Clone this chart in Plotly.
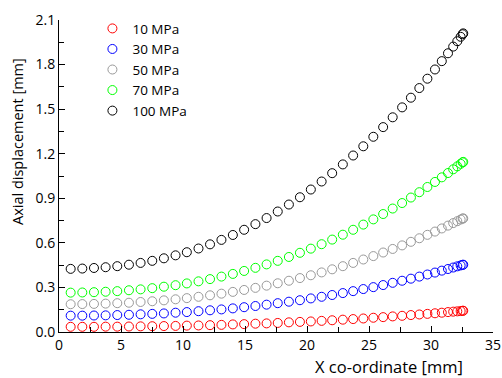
import plotly.graph_objects as go

# X co-ordinate [mm] of the nodes (shared by all series)
x_coord = [0.94, 1.88, 2.82, 3.76, 4.70, 5.64, 6.58, 7.52, 8.46, 9.40,
           10.31, 11.25, 12.18, 13.10, 14.02, 14.93, 15.84, 16.74, 17.64, 18.54,
           19.43, 20.31, 21.18, 22.03, 22.89, 23.72, 24.54, 25.35, 26.14, 26.91,
           27.67, 28.38, 29.06, 29.71, 30.32, 30.87, 31.37, 31.79, 32.12, 32.39,
           32.55, 32.60]

disp_10 = [0.035, 0.035, 0.035, 0.036, 0.036, 0.037, 0.038, 0.039, 0.040, 0.041,
           0.043, 0.044, 0.046, 0.048, 0.051, 0.053, 0.056, 0.058, 0.061, 0.065,
           0.068, 0.071, 0.075, 0.079, 0.083, 0.087, 0.091, 0.096, 0.100, 0.105,
           0.109, 0.114, 0.118, 0.122, 0.126, 0.130, 0.134, 0.137, 0.139, 0.141,
           0.143, 0.143]
disp_30 = [0.110, 0.110, 0.111, 0.112, 0.114, 0.116, 0.119, 0.122, 0.125, 0.130,
           0.134, 0.140, 0.146, 0.152, 0.159, 0.167, 0.175, 0.184, 0.194, 0.204,
           0.214, 0.226, 0.237, 0.249, 0.262, 0.275, 0.289, 0.302, 0.316, 0.331,
           0.345, 0.359, 0.373, 0.387, 0.400, 0.413, 0.424, 0.434, 0.442, 0.448,
           0.452, 0.453]
disp_50 = [0.187, 0.188, 0.189, 0.191, 0.194, 0.197, 0.202, 0.207, 0.213, 0.220,
           0.228, 0.237, 0.247, 0.258, 0.270, 0.283, 0.297, 0.312, 0.328, 0.345,
           0.363, 0.382, 0.401, 0.422, 0.443, 0.465, 0.488, 0.511, 0.535, 0.559,
           0.583, 0.607, 0.631, 0.654, 0.676, 0.697, 0.716, 0.733, 0.746, 0.757,
           0.763, 0.765]
disp_70 = [0.265, 0.266, 0.268, 0.271, 0.275, 0.281, 0.287, 0.295, 0.305, 0.315,
           0.327, 0.341, 0.356, 0.373, 0.391, 0.411, 0.432, 0.455, 0.479, 0.505,
           0.533, 0.561, 0.591, 0.622, 0.655, 0.688, 0.723, 0.758, 0.794, 0.831,
           0.868, 0.905, 0.941, 0.976, 1.010, 1.041, 1.070, 1.095, 1.115, 1.132,
           1.142, 1.145]
disp_100 = [0.425, 0.427, 0.431, 0.436, 0.443, 0.453, 0.465, 0.479, 0.496, 0.516,
            0.537, 0.562, 0.590, 0.620, 0.653, 0.688, 0.726, 0.767, 0.811, 0.858,
            0.907, 0.959, 1.013, 1.069, 1.128, 1.188, 1.250, 1.314, 1.379, 1.445,
            1.512, 1.577, 1.642, 1.705, 1.767, 1.823, 1.876, 1.921, 1.957, 1.987,
            2.004, 2.010]

series_names = ["10 MPa", "30 MPa", "50 MPa", "70 MPa", "100 MPa"]
series_values = [disp_10, disp_30, disp_50, disp_70, disp_100]
series_colors = ["#ff0000", "#0000ff", "#999999", "#00ff00", "#000000"]

x_ticks = [0, 5, 10, 15, 20, 25, 30, 35]
y_ticks = [0.0, 0.3, 0.6, 0.9, 1.2, 1.5, 1.8, 2.1]

FONT = "Open Sans"

fig = go.Figure()
for name, vals, col in zip(series_names, series_values, series_colors):
    fig.add_trace(go.Scatter(
        x=x_coord, y=vals, name=name, mode="markers",
        marker=dict(symbol="circle-open", size=9, color=col, line=dict(width=1, color=col)),
        cliponaxis=False,
    ))

fig.update_layout(
    width=502, height=378,
    margin=dict(l=59, r=9, t=20, b=46),
    paper_bgcolor="white", plot_bgcolor="white",
    font=dict(family=FONT, size=14, color="black"),
    showlegend=True,
    legend=dict(x=0.077, y=1.022, xanchor="left", yanchor="top",
                bgcolor="rgba(0,0,0,0)", font=dict(size=13.5, family=FONT),
                tracegroupgap=0),
    xaxis=dict(range=[0, 35], tickvals=x_ticks, ticktext=[str(v) for v in x_ticks],
               showline=True, linecolor="black", linewidth=1, mirror=False,
               ticks="inside", ticklen=6, tickcolor="black", showgrid=False, zeroline=False,
               automargin=False,
               minor=dict(ticks="inside", ticklen=5, dtick=2.5, tickcolor="black", showgrid=False),
               tickfont=dict(size=14, family=FONT)),
    yaxis=dict(range=[0, 2.1], tickvals=y_ticks, ticktext=["%.1f" % v for v in y_ticks],
               showline=True, linecolor="black", linewidth=1, mirror=False,
               ticks="inside", ticklen=6, tickcolor="black", showgrid=False, zeroline=False,
               automargin=False,
               minor=dict(ticks="inside", ticklen=5, dtick=0.15, tickcolor="black", showgrid=False),
               tickfont=dict(size=14, family=FONT)),
    annotations=[
        dict(text="X co-ordinate [mm]", xref="paper", yref="paper",
             x=(389 - 59) / 434, y=-(366 - 332) / 312, xanchor="center", yanchor="middle",
             showarrow=False, font=dict(size=16.5, family=FONT)),
        dict(text="Axial displacement [mm]", xref="paper", yref="paper",
             x=-(59 - 17) / 434, y=(332 - 142) / 312, xanchor="center", yanchor="middle",
             textangle=-90, showarrow=False, font=dict(size=14.5, family=FONT)),
    ],
)

fig.write_html("out.html", config={"displayModeBar": False},
               post_script="document.body.style.margin='0';document.body.style.overflow='hidden';")
